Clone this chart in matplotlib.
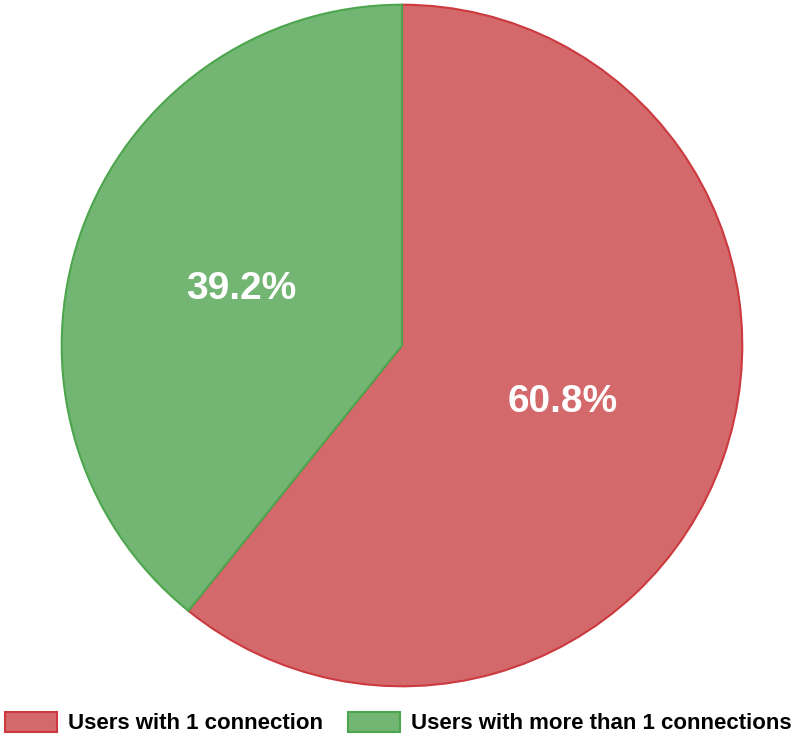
import matplotlib
matplotlib.use("Agg")
import matplotlib.pyplot as plt

labels = ["Users with 1 connection", "Users with more than 1 connections"]
values = [60.8, 39.2]
fill_colors = ["#D4696B", "#73B573"]
edge_colors = ["#CC3A40", "#4DA64D"]

plt.rcParams['font.family'] = ['Liberation Sans', 'DejaVu Sans']

W, H = 797, 737
fig = plt.figure(figsize=(W / 100, H / 100), dpi=100)
ax = fig.add_axes([60 / W, (H - 688) / H, 684 / W, 685 / H])
wedges, texts, autotexts = ax.pie(
    values, colors=fill_colors, startangle=90, counterclock=False,
    autopct='%1.1f%%', pctdistance=0.5, radius=1,
    wedgeprops=dict(linewidth=1.5),
    textprops=dict(color='white', fontsize=28, fontweight='bold'))
for w, ec in zip(wedges, edge_colors):
    w.set_edgecolor(ec)
ax.set_xlim(-1.005, 1.005)
ax.set_ylim(-1.005, 1.005)
ax.set_aspect('auto')
ax.axis('off')

leg = fig.legend(wedges, labels, loc='center', bbox_to_anchor=(0.5, 14 / H),
                 ncol=2, frameon=False, prop=dict(size=16, weight='bold'),
                 handlelength=2.34, handleheight=1.04, columnspacing=1.1,
                 handletextpad=0.5, borderaxespad=0.0, borderpad=0.0)
fig.savefig("out.png", dpi=100)
